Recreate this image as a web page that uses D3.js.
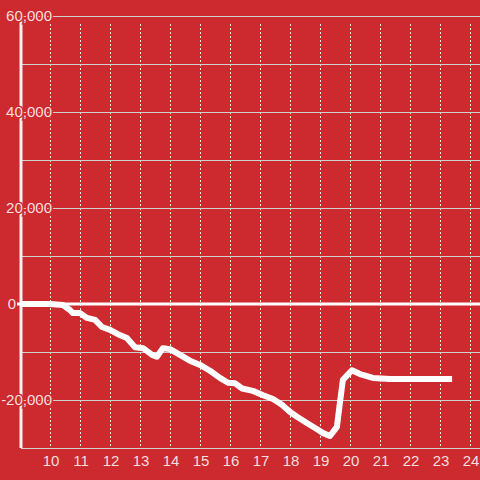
<!DOCTYPE html>
<html>
<head>
<meta charset="utf-8">
<script src="https://cdn.jsdelivr.net/npm/d3@7/dist/d3.min.js"></script>
<style>
  html, body { margin: 0; padding: 0; background: #cd2a2f; }
  svg { display: block; }
</style>
</head>
<body>
<svg id="chart" width="480" height="480"></svg>
<script>
// Datos
const hours = [9.0, 9.97, 10.4, 10.63, 10.73, 10.97, 11.2, 11.47, 11.7, 11.97, 12.23, 12.53, 12.8, 13.07, 13.37, 13.53, 13.73, 13.97, 14.3, 14.63, 14.97, 15.3, 15.63, 15.9, 16.13, 16.37, 16.73, 17.07, 17.4, 17.7, 17.97, 18.2, 18.53, 18.87, 19.07, 19.3, 19.53, 19.63, 19.73, 20.03, 20.3, 20.73, 21.3, 23.37];
const values = [0, 0, -200, -1250, -1900, -1900, -2900, -3300, -4800, -5400, -6300, -7100, -9000, -9200, -10600, -11000, -9200, -9400, -10600, -11800, -12700, -13900, -15400, -16400, -16500, -17600, -18100, -19000, -19800, -21000, -22500, -23500, -24800, -26100, -26900, -27500, -25600, -20600, -15800, -13800, -14600, -15400, -15600, -15600];
const xTicks = [10, 11, 12, 13, 14, 15, 16, 17, 18, 19, 20, 21, 22, 23, 24];
const yLabelTicks = [60000, 40000, 20000, 0, -20000];
const yGridTicks = [60000, 50000, 40000, 30000, 20000, 10000, -10000, -20000, -30000];

const width = 480;
const height = 480;
const axisX = 21;
const textColor = "#f4dfdf";
const bg = "#cd2a2f";

const svg = d3.select("#chart");

// Escalas
const x = d3.scaleLinear().domain([9, 24]).range([axisX, 471]);
const y = d3.scaleLinear().domain([-30000, 60000]).range([448, 16]);

const data = hours.map((h, i) => ({ h, v: values[i] }));

// Rejilla vertical punteada
svg.append("g")
  .selectAll("line")
  .data(xTicks)
  .join("line")
    .attr("x1", d => x(d) - 0.5)
    .attr("x2", d => x(d) - 0.5)
    .attr("y1", y(60000) + 8)
    .attr("y2", y(-30000) - 2)
    .attr("stroke", "#e6e6e6")
    .attr("stroke-width", 1)
    .attr("stroke-dasharray", "2,2");

// Rejilla horizontal
svg.append("g")
  .selectAll("line")
  .data(yGridTicks)
  .join("line")
    .attr("x1", axisX)
    .attr("x2", width)
    .attr("y1", d => y(d) + 0.5)
    .attr("y2", d => y(d) + 0.5)
    .attr("stroke", "#cfcfcf")
    .attr("stroke-width", 1);

// Eje vertical
svg.append("line")
  .attr("x1", axisX)
  .attr("x2", axisX)
  .attr("y1", y(60000))
  .attr("y2", y(-30000))
  .attr("stroke", "#f2f2f2")
  .attr("stroke-width", 3);

// Etiquetas Y con fondo rojo
const fmt = d3.format(",");
svg.append("g")
  .selectAll("text")
  .data(yLabelTicks)
  .join("text")
    .attr("x", d => d === 0 ? axisX - 5 : axisX + 31)
    .attr("y", d => y(d))
    .attr("dy", "0.35em")
    .attr("text-anchor", "end")
    .attr("font-family", "Liberation Sans, Arial, sans-serif")
    .attr("font-size", "15px")
    .attr("fill", textColor)
    .attr("stroke", bg)
    .attr("stroke-width", 3)
    .attr("paint-order", "stroke")
    .text(d => fmt(d).replace("−", "-"));

// Línea de cero
svg.append("line")
  .attr("x1", axisX - 4)
  .attr("x2", width)
  .attr("y1", y(0))
  .attr("y2", y(0))
  .attr("stroke", "#ffffff")
  .attr("stroke-width", 3);

// Etiquetas X
svg.append("g")
  .selectAll("text")
  .data(xTicks)
  .join("text")
    .attr("x", d => x(d))
    .attr("y", 466)
    .attr("text-anchor", "middle")
    .attr("font-family", "Liberation Sans, Arial, sans-serif")
    .attr("font-size", "15px")
    .attr("fill", textColor)
    .text(d => d);

// Serie
const line = d3.line()
  .x(d => x(d.h))
  .y(d => y(d.v));

svg.append("path")
  .datum(data)
  .attr("d", line)
  .attr("fill", "none")
  .attr("stroke", "#ffffff")
  .attr("stroke-width", 6)
  .attr("stroke-linejoin", "round");
</script>
</body>
</html>
